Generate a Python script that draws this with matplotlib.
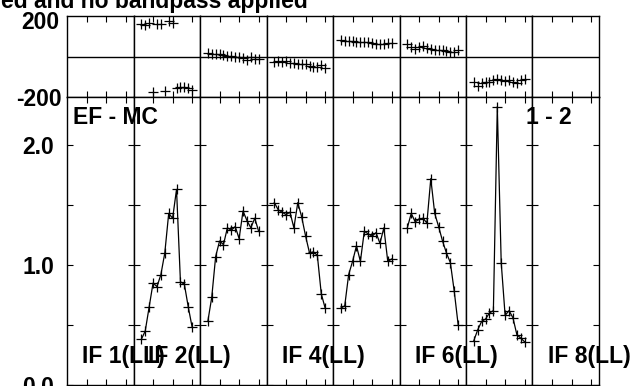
import matplotlib
matplotlib.use("Agg")
import matplotlib.pyplot as plt
import matplotlib.transforms as mtransforms

plt.rcParams["font.family"] = ["Liberation Sans", "DejaVu Sans"]
plt.rcParams["font.weight"] = "bold"
plt.rcParams["axes.unicode_minus"] = False

W, H = 636, 386

# channels plotted in every IF (edge channels flagged)
channels = [2, 3, 4, 5, 6, 7, 8, 9, 10, 11, 12, 13, 14, 15]
if_names = ["IF 1(LL)", "IF 2(LL)", "IF 3(LL)", "IF 4(LL)",
            "IF 5(LL)", "IF 6(LL)", "IF 7(LL)", "IF 8(LL)"]
shown_labels = [0, 1, 3, 5, 7]

# amplitude per IF (None = no data)
amp = [
    None,
    [0.38, 0.45, 0.65, 0.85, 0.82, 0.92, 1.10, 1.43, 1.39, 1.63, 0.86, 0.84, 0.65, 0.48],
    [0.53, 0.73, 1.07, 1.20, 1.17, 1.31, 1.29, 1.32, 1.22, 1.45, 1.37, 1.31, 1.39, 1.28],
    [1.52, 1.46, 1.44, 1.42, 1.44, 1.31, 1.52, 1.40, 1.24, 1.10, 1.11, 1.08, 0.76, 0.64],
    [0.64, 0.66, 0.92, 1.03, 1.16, 1.03, 1.28, 1.26, 1.24, 1.27, 1.18, 1.31, 1.03, 1.05],
    [1.31, 1.43, 1.36, 1.38, 1.39, 1.35, 1.72, 1.43, 1.32, 1.20, 1.10, 1.02, 0.78, 0.50],
    [0.37, 0.46, 0.53, 0.55, 0.60, 0.62, 2.32, 1.02, 0.58, 0.62, 0.56, 0.42, 0.39, 0.36],
    None,
]

# phase in degrees per IF
phase = [
    None,
    [159, 154, 167, -174, 159, 159, -170, 175, 167, -158, -150, -152, -158, -165],
    [19, 12, 12, 11, 7, 4, 2, -1, -4, -9, -17, -4, -14, -12],
    [-26, -21, -26, -21, -34, -34, -37, -39, -37, -47, -50, -50, -42, -58],
    [81, 78, 77, 77, 73, 73, 73, 73, 68, 62, 60, 62, 65, 65],
    [62, 48, 36, 45, 52, 40, 37, 32, 32, 32, 29, 24, 24, 32],
    [-124, -146, -129, -124, -124, -116, -113, -116, -119, -116, -124, -129, -116, -113],
    None,
]

amp_ticks = [0.0, 0.5, 1.0, 1.5, 2.0]
amp_ticklabels = ["0.0", "", "1.0", "", "2.0"]
phase_ticks = [-200, 0, 200]
phase_ticklabels = ["-200", "", "200"]
chan_ticks = [5, 10, 15]

FS = 16.5

fig = plt.figure(figsize=(W / 100, H / 100), dpi=100)
gs = fig.add_gridspec(2, 8, left=67 / W, right=599 / W, top=1 - 16 / H,
                      bottom=1 - 385 / H, height_ratios=[81, 288],
                      hspace=0, wspace=0)

for i in range(8):
    axp = fig.add_subplot(gs[0, i])
    axa = fig.add_subplot(gs[1, i])
    for ax in (axp, axa):
        ax.set_xlim(0, 17)
        ax.set_xticks(chan_ticks)
        ax.set_xticklabels([])
        for s in ax.spines.values():
            s.set_linewidth(1.0)
            s.set_color("black")
        ax.tick_params(direction="in", top=True, bottom=True, left=True,
                       right=True, length=4, width=0.8, color="black",
                       labelsize=FS, pad=20.5)
    axp.set_ylim(-200, 200)
    axp.set_yticks(phase_ticks)
    axp.tick_params(axis="y", length=0)
    axp.axhline(0, color="black", lw=1.0)
    axa.set_ylim(0, 2.4)
    axa.set_yticks(amp_ticks)
    if i == 0:
        axp.set_yticklabels(phase_ticklabels)
        axa.set_yticklabels(amp_ticklabels)
        for lab in axp.get_yticklabels() + axa.get_yticklabels():
            lab.set_horizontalalignment("center")
            lab.set_fontweight("bold")
        # top phase label sits a little below its tick in the original
        top_lab = axp.get_yticklabels()[-1]
        top_lab.set_transform(top_lab.get_transform() +
                              mtransforms.ScaledTranslation(0.02, -0.04, fig.dpi_scale_trans))
    else:
        axp.set_yticklabels([])
        axa.set_yticklabels([])
    if amp[i] is not None:
        axa.plot(channels, amp[i], color="black", lw=0.9, marker="+",
                 ms=7, mew=0.9)
        axp.plot(channels, phase[i], ls="none", color="black", marker="+",
                 ms=7, mew=0.9)

# labels placed in pixel coordinates of the original plot
def px(x, y):
    return x / W, 1 - y / H

fig.text(*px(308, 8), "ed and no bandpass applied", ha="right",
         va="baseline", fontsize=FS, fontweight="bold")
fig.text(*px(73, 124), "EF - MC", ha="left", va="baseline",
         fontsize=FS, fontweight="bold")
fig.text(*px(572, 124), "1 - 2", ha="right", va="baseline",
         fontsize=FS, fontweight="bold")
for i in shown_labels:
    x0 = 67 + i * 66.5 + 15
    fig.text(*px(x0, 363), if_names[i], ha="left", va="baseline",
             fontsize=FS, fontweight="bold")

fig.savefig("out.png", dpi=100)
